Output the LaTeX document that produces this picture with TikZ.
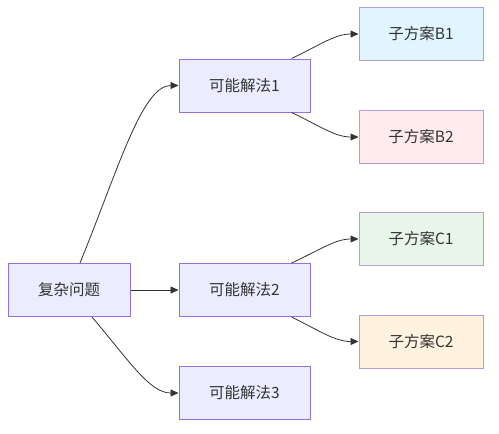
\documentclass[tikz,border=0pt]{standalone}
\usepackage{fontspec}
\newfontfamily\cjk{Noto Sans CJK SC}
\usetikzlibrary{arrows.meta}
\definecolor{boxfill}{HTML}{ECECFF}
\definecolor{boxline}{HTML}{9370DB}
\definecolor{subline}{HTML}{B39DDB}
\definecolor{bfill}{HTML}{E1F5FE}
\definecolor{bbfill}{HTML}{FFEBEE}
\definecolor{cfill}{HTML}{E8F5E9}
\definecolor{ccfill}{HTML}{FFF3E0}
\definecolor{edgecol}{HTML}{333333}
\tikzset{
  box/.style={draw=boxline, fill=boxfill, line width=1pt, minimum height=53pt, inner sep=0pt,
    font=\cjk\fontsize{15.5}{18}\selectfont, text=edgecol},
  mainbox/.style={box, minimum width=131pt},
  rootbox/.style={box, minimum width=122pt},
  subbox/.style={box, draw=subline, minimum width=124pt},
  conn/.style={draw=edgecol, line width=0.8pt, -{Triangle[length=8pt,width=7pt]}}
}
\begin{document}
\begin{tikzpicture}[x=1pt,y=-1pt]
\useasboundingbox (0,0) rectangle (499,434);
\node[rootbox] (root) at (69,290) {复杂问题};
\node[mainbox] (s1) at (244.5,85.5) {可能解法1};
\node[mainbox] (s2) at (244.5,290) {可能解法2};
\node[mainbox] (s3) at (244.5,393) {可能解法3};
\node[subbox, fill=bfill] (b1) at (421,34) {子方案B1};
\node[subbox, fill=bbfill] (b2) at (421,137) {子方案B2};
\node[subbox, fill=cfill] (c1) at (421,239) {子方案C1};
\node[subbox, fill=ccfill] (c2) at (421,341.5) {子方案C2};

\draw[conn] ([xshift=11pt]root.north) .. controls (118,170) and (142,85.5) .. (s1.west);
\draw[conn] (root.east) -- (s2.west);
\draw[conn] ([xshift=23pt]root.south) .. controls (130,362) and (150,393) .. (s3.west);

\draw[conn] ([xshift=47pt]s1.north) .. controls (320,45) and (335,34) .. (b1.west);
\draw[conn] ([xshift=47pt]s1.south) .. controls (320,126) and (335,137) .. (b2.west);
\draw[conn] ([xshift=47pt]s2.north) .. controls (320,250) and (335,239) .. (c1.west);
\draw[conn] ([xshift=47pt]s2.south) .. controls (320,331) and (335,341.5) .. (c2.west);
\end{tikzpicture}
\end{document}
